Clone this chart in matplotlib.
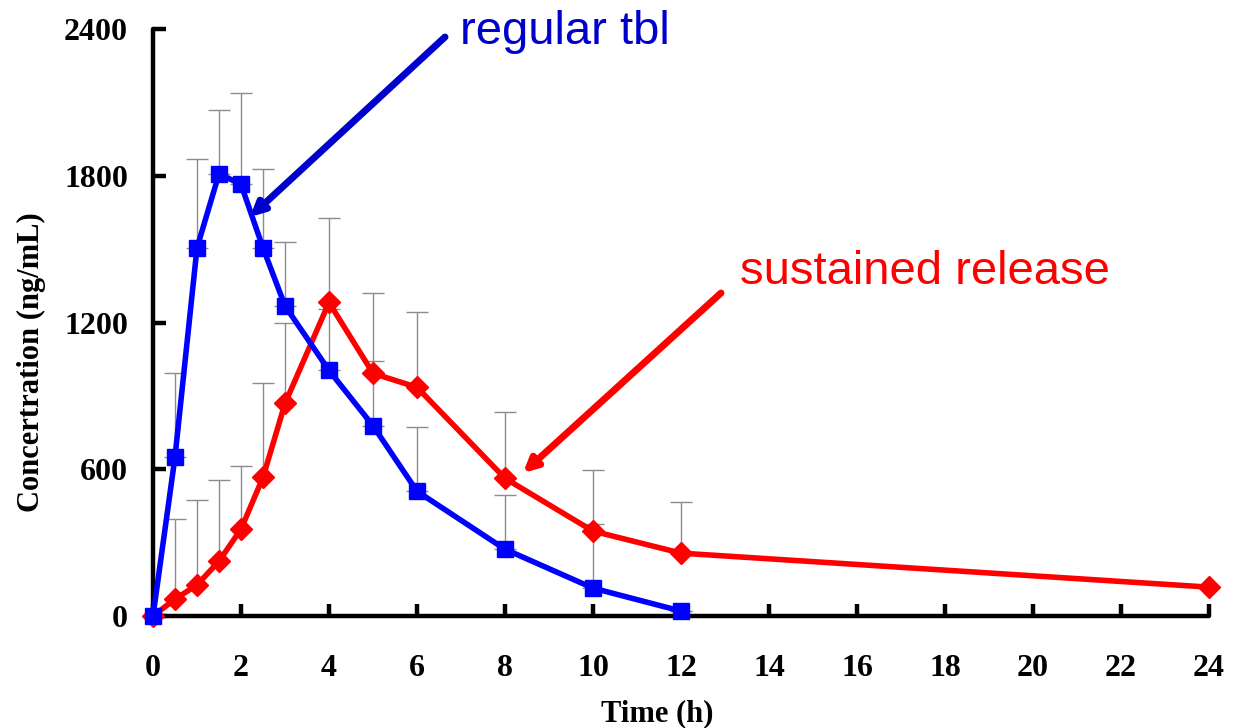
import matplotlib
matplotlib.use("Agg")
import matplotlib.pyplot as plt
import numpy as np

# sampling times (h)
time_regular = [0, 0.5, 1, 1.5, 2, 2.5, 3, 4, 5, 6, 8, 10, 12]
time_sustained = [0, 0.5, 1, 1.5, 2, 2.5, 3, 4, 5, 6, 8, 10, 12, 24]

# mean concentration (ng/mL)
conc_regular = [0, 650, 1505, 1808, 1765, 1505, 1268, 1004, 778, 510, 273, 114, 20]
conc_sustained = [0, 69, 127, 224, 355, 567, 869, 1282, 992, 935, 563, 347, 257, 118]

# upper SD (ng/mL)
sd_regular = [0, 342, 364, 262, 372, 324, 263, 250, 263, 261, 221, 262, 0]
sd_sustained = [0, 327, 346, 331, 257, 384, 331, 347, 330, 306, 270, 249, 208, 0]

x_ticks = list(range(0, 25, 2))
y_ticks = [0, 600, 1200, 1800, 2400]

serif = ["Liberation Serif", "DejaVu Serif"]
sans = ["Liberation Sans", "DejaVu Sans"]

fig = plt.figure(figsize=(12.38, 7.28), dpi=100)
ax = fig.add_axes([153 / 1238, 1 - 616 / 728, 1056 / 1238, 587 / 728])

ax.errorbar(time_regular, conc_regular, yerr=[np.zeros(len(sd_regular)), sd_regular],
            fmt="none", ecolor="#8c8c8c", elinewidth=1.0, capsize=8, capthick=1.0, zorder=1)
ax.errorbar(time_sustained, conc_sustained, yerr=[np.zeros(len(sd_sustained)), sd_sustained],
            fmt="none", ecolor="#8c8c8c", elinewidth=1.0, capsize=8, capthick=1.0, zorder=1)

ax.plot(time_sustained, conc_sustained, color="#ff0000", lw=4, marker="D",
        markersize=11, zorder=3, clip_on=False)
ax.plot(time_regular, conc_regular, color="#0000ff", lw=4, marker="s",
        markersize=11, zorder=4, clip_on=False)

ax.set_xlim(0, 24)
ax.set_ylim(0, 2400)
ax.set_xticks(x_ticks)
ax.set_yticks(y_ticks)
for s in ["top", "right"]:
    ax.spines[s].set_visible(False)
for s in ["left", "bottom"]:
    ax.spines[s].set_linewidth(3.2)
    ax.spines[s].set_capstyle("round")
ax.tick_params(axis="x", direction="in", length=9, width=3.2, pad=27)
ax.tick_params(axis="y", direction="in", length=9, width=3.2, pad=18)
for lab in ax.get_xticklabels() + ax.get_yticklabels():
    lab.set_fontfamily(serif)
    lab.set_fontweight("bold")
    lab.set_fontsize(23)

fig.text(657 / 1238, 1 - 714 / 728, "Time (h)", ha="center", va="center",
         fontsize=22, fontweight="bold", family=serif)
fig.text(31 / 1238, 1 - 362 / 728, "Concertration (ng/mL)", ha="center", va="center",
         rotation=90, fontsize=22, fontweight="bold", family=serif)

# annotations with arrows
ax.annotate("", xy=(250, 728 - 217), xycoords="figure pixels",
            xytext=(445, 728 - 37), textcoords="figure pixels",
            arrowprops=dict(arrowstyle="-|>,head_length=0.8,head_width=0.4",
                            color="#0000cc", lw=5, shrinkA=0, shrinkB=0))
fig.text(460 / 1238, 1 - 32 / 728, "regular tbl", ha="left", va="center",
         fontsize=34, color="#0000cc", family=sans)

ax.annotate("", xy=(523, 728 - 473), xycoords="figure pixels",
            xytext=(721, 728 - 293), textcoords="figure pixels",
            arrowprops=dict(arrowstyle="-|>,head_length=0.8,head_width=0.4",
                            color="#ff0000", lw=5, shrinkA=0, shrinkB=0))
fig.text(740 / 1238, 1 - 272 / 728, "sustained release", ha="left", va="center",
         fontsize=34, color="#ff0000", family=sans)

fig.savefig("out.png", dpi=100)
